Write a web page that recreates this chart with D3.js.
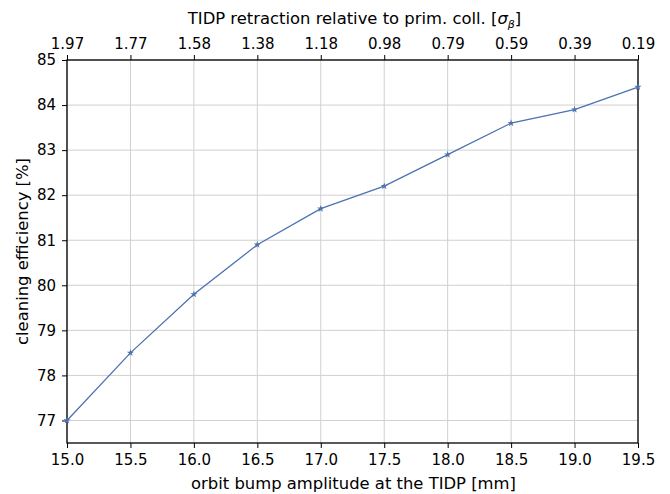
<!DOCTYPE html>
<html><head><meta charset="utf-8">
<script src="https://cdn.jsdelivr.net/npm/d3@7"></script>
<style>body{margin:0;background:#fff}svg text{font-family:"DejaVu Sans",sans-serif;fill:#000}</style>
</head><body><svg id="c" width="670" height="494"></svg>
<script>
const bump = [15.0, 15.5, 16.0, 16.5, 17.0, 17.5, 18.0, 18.5, 19.0, 19.5];
const efficiency = [77.0, 78.5, 79.8, 80.9, 81.7, 82.2, 82.9, 83.6, 83.9, 84.4];
const topLabels = ["1.97","1.77","1.58","1.38","1.18","0.98","0.79","0.59","0.39","0.19"];
const yTicks = [77,78,79,80,81,82,83,84,85];

const svg = d3.select("#c");
const L=67,R=638,T=60,B=443;
const x = d3.scaleLinear().domain([15,19.5]).range([L,R]);
const y = d3.scaleLinear().domain([76.5,85]).range([B,T]);

// grid
svg.append("g").selectAll("line").data(bump).join("line")
 .attr("x1",d=>x(d)).attr("x2",d=>x(d)).attr("y1",T).attr("y2",B)
 .attr("stroke","#d0d0d0").attr("stroke-width",1);
svg.append("g").selectAll("line").data(yTicks).join("line")
 .attr("y1",d=>y(d)).attr("y2",d=>y(d)).attr("x1",L).attr("x2",R)
 .attr("stroke","#d0d0d0").attr("stroke-width",1);

function styleAxis(g){
  g.selectAll("text").style("font-size","15px").style("font-family","DejaVu Sans");
  g.selectAll(".tick line").attr("stroke","#000");
  g.select(".domain").remove();
}
svg.append("g").attr("transform",`translate(0,${B})`)
 .call(d3.axisBottom(x).tickValues(bump).tickFormat(d3.format(".1f")).tickSize(5).tickPadding(6))
 .call(styleAxis);
svg.append("g").attr("transform",`translate(0,${T})`)
 .call(d3.axisTop(x).tickValues(bump).tickFormat((d,i)=>topLabels[i]).tickSize(5).tickPadding(6))
 .call(styleAxis);
svg.append("g").attr("transform",`translate(${L},0)`)
 .call(d3.axisLeft(y).tickValues(yTicks).tickFormat(d3.format("d")).tickSize(5).tickPadding(6))
 .call(styleAxis);

// spines
svg.append("rect").attr("x",L).attr("y",T).attr("width",R-L).attr("height",B-T)
 .attr("fill","none").attr("stroke","#000").attr("stroke-width",1.3);

const line = d3.line().x((d,i)=>x(bump[i])).y(d=>y(d));
svg.append("path").datum(efficiency).attr("d",line)
 .attr("fill","none").attr("stroke","#4c72b0").attr("stroke-width",1.3);
const star = d3.symbol().type(d3.symbolStar).size(16);
svg.append("g").selectAll("path").data(efficiency).join("path")
 .attr("transform",(d,i)=>`translate(${x(bump[i])},${y(d)})`)
 .attr("d",star).attr("fill","#4c72b0");

svg.append("text").attr("x",(L+R)/2+1).attr("y",489).attr("text-anchor","middle")
 .style("font-size","16.4px").text("orbit bump amplitude at the TIDP [mm]");
svg.append("text").attr("transform",`translate(28,${(T+B)/2}) rotate(-90)`).attr("text-anchor","middle")
 .style("font-size","16.4px").text("cleaning efficiency [%]");
const tt = svg.append("text").attr("x",(L+R)/2+2).attr("y",24).attr("text-anchor","middle").style("font-size","16.4px");
tt.append("tspan").text("TIDP retraction relative to prim. coll. [");
tt.append("tspan").style("font-style","italic").text("σ");
tt.append("tspan").style("font-style","italic").style("font-size","11px").attr("dy",4).text("β");
tt.append("tspan").attr("dy",-4).text("]");
</script></body></html>
